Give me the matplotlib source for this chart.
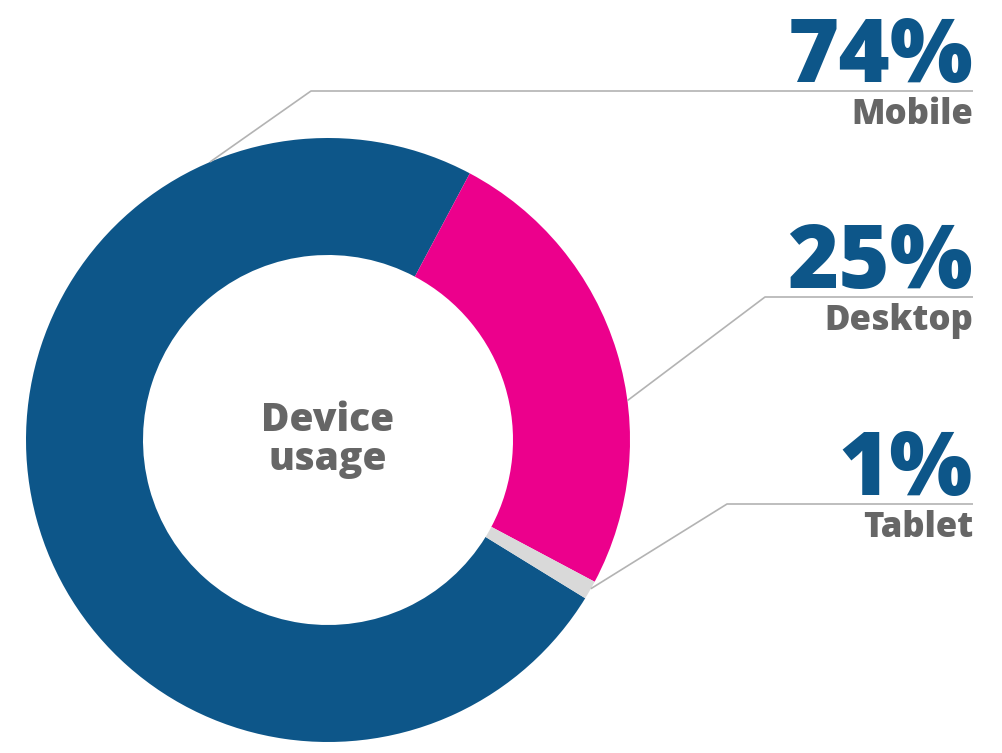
import matplotlib
matplotlib.use("Agg")
import matplotlib.pyplot as plt
import numpy as np

# data
devices = ["Mobile", "Desktop", "Tablet"]
shares = [74, 25, 1]
colors = ["#0d5689", "#ec008c", "#d9d9d9"]

# layout (pixel units, y measured from top)
W, H = 1002, 753
cx, cy = 328, 440
r_out, r_in = 302, 185
start_clockwise = 121.6          # where Mobile starts, degrees clockwise from 12 o'clock
anchor_deg = [337, 82.5, 119.5]  # where each leader leaves the ring
elbow = [(311, 91), (765, 297), (727, 504)]
text_right = 973

plt.rcParams["font.family"] = ["Open Sans", "DejaVu Sans"]

fig = plt.figure(figsize=(W / 100, H / 100), dpi=100)
ax = fig.add_axes([0, 0, 1, 1])

ax.pie(shares, colors=colors, center=(cx, H - cy), radius=r_out,
       startangle=90 - start_clockwise, counterclock=False,
       wedgeprops=dict(width=r_out - r_in, linewidth=0))

ax.set_xlim(0, W)
ax.set_ylim(0, H)
ax.set_aspect("equal")
ax.axis("off")

line_col = "#b3b3b3"
blue = "#0d5689"
grey = "#666666"

for name, val, ang, (ex, ey) in zip(devices, shares, anchor_deg, elbow):
    a = np.radians(ang)
    sx = cx + r_out * np.sin(a)
    sy = cy - r_out * np.cos(a)
    ax.plot([sx, ex, text_right], [H - sy, H - ey, H - ey],
            color=line_col, lw=1.2, solid_capstyle="butt")
    ax.text(text_right, H - (ey - 9), f"{val}%", ha="right", va="baseline",
            fontsize=63, fontweight=800, color=blue)
    ax.text(text_right, H - (ey + 33), name, ha="right", va="baseline",
            fontsize=25, fontweight=800, color=grey)

ax.text(cx, H - cy, "Device\nusage", ha="center", va="center",
        fontsize=28, fontweight=800, color=grey, linespacing=1.0)

fig.savefig("out.png", dpi=100)
